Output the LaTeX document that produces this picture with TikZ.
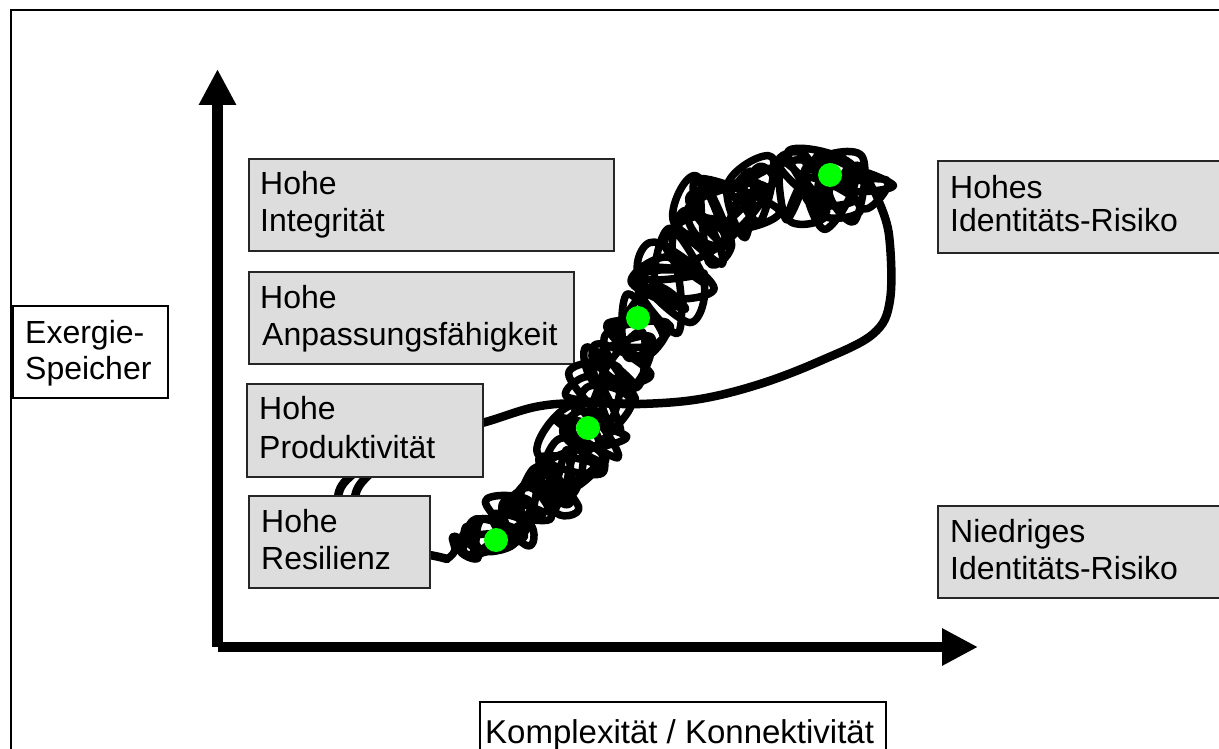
\documentclass[tikz,border=0pt]{standalone}
\usepackage{fontspec}
\setmainfont{Liberation Sans}
\usetikzlibrary{arrows.meta}
\definecolor{boxgray}{HTML}{DDDDDD}
\definecolor{dotgreen}{HTML}{00FF00}
\begin{document}
\begin{tikzpicture}[x=1pt,y=-1pt,
  gbox/.style={draw=black!85, line width=2pt, fill=boxgray, inner sep=0pt, anchor=north west},
  wbox/.style={draw=black, line width=2pt, fill=white, inner sep=0pt, anchor=north west},
  txt/.style={anchor=base west, inner sep=0pt, font=\fontsize{32}{37}\selectfont},
  axisarrow/.style={line width=11pt, -{Triangle[length=36pt,width=35pt]}},
  curve/.style={line width=8.5pt, line cap=round, line join=round},
  scribble/.style={line width=7.5pt, line cap=round, line join=round},
  gdot/.style={circle, fill=dotgreen, minimum size=24pt, inner sep=0pt}]
\useasboundingbox (0,0) rectangle (1219,749);
\clip (0,0) rectangle (1219,749);
% frame
\draw[line width=2pt] (11,770) -- (11,10) -- (1240,10);
% axes
\coordinate (yb) at (217.5,647);
\coordinate (yt) at (217.5,69);
\coordinate (xb) at (218,647);
\coordinate (xt) at (978,647);
\draw[axisarrow] (yb) -- (yt);
\draw[axisarrow, line width=10pt] (xb) -- (xt);
% smooth loop (partly behind boxes)
\draw[curve] plot[smooth, tension=0.6] coordinates {(878,200) (889,235) (890,300) (873,334) (820,361) (760,384) (700,399) (640,404) (580,403) (535,407) (482,423) (420,438) (372,472) (355,497) (362,532) (400,553) (429,555) (447,559)};
\draw[curve] plot[smooth, tension=0.6] coordinates {(400,445) (353,474) (338,497) (345,530)};
% boxes
\node[wbox, minimum width=155pt, minimum height=92pt] (bEx) at (12,305) {};
\node[gbox, minimum width=365pt, minimum height=92pt] (bInt) at (248,158) {};
\node[gbox, minimum width=325pt, minimum height=92pt] (bAnp) at (248,271) {};
\node[gbox, minimum width=236pt, minimum height=93pt] (bPro) at (246,383) {};
\node[gbox, minimum width=181pt, minimum height=92pt] (bRes) at (248,495) {};
\node[gbox, minimum width=300pt, minimum height=92pt] (bHoch) at (937,160) {};
\node[gbox, minimum width=300pt, minimum height=92pt] (bNied) at (937,505) {};
\node[wbox, minimum width=406pt, minimum height=70pt] (bKom) at (479,701) {};
% scribble tangle
\pgfmathsetseed{2024}
\def\spx{{457,494,532,566,587,615,641,686,722,767,833,866}}
\def\spy{{544,536,503,470,430,373,316,252,210,190,186,188}}
\def\spw{{13,26,32,35,37,37,38,39,40,40,38,30}}
\def\scN{175}
\xdef\scpts{(447,559)}
\foreach \i in {1,...,\scN}{%
  \pgfmathsetmacro\sct{\i/\scN*11}%
  \pgfmathtruncatemacro\sck{min(floor(\sct),10)}%
  \pgfmathsetmacro\scf{\sct-\sck}%
  \pgfmathtruncatemacro\scn{\sck+1}%
  \pgfmathsetmacro\xa{\spx[\sck]}%
  \pgfmathsetmacro\xb{\spx[\scn]}%
  \pgfmathsetmacro\ya{\spy[\sck]}%
  \pgfmathsetmacro\yb{\spy[\scn]}%
  \pgfmathsetmacro\wa{\spw[\sck]}%
  \pgfmathsetmacro\wb{\spw[\scn]}%
  \pgfmathsetmacro\ww{\wa+\scf*(\wb-\wa)}%
  \pgfmathsetmacro\scang{10*mod(12.9*\i+4*rand,36)}%
  \pgfmathsetmacro\px{\xa+\scf*(\xb-\xa)+\ww*(0.85*cos(\scang)+0.3*rand)}%
  \pgfmathsetmacro\py{\ya+\scf*(\yb-\ya)+\ww*(0.85*sin(\scang)+0.3*rand)}%
  \xdef\scpts{\scpts (\px,\py)}%
}
\xdef\scpts{\scpts (878,200)}
\edef\scdraw{\noexpand\draw[scribble] plot[smooth, tension=0.7] coordinates {\scpts};}
\scdraw
% green dots
\node[gdot] (d1) at (496,540) {};
\node[gdot] (d2) at (588,428) {};
\node[gdot] (d3) at (638,318) {};
\node[gdot] (d4) at (830,175) {};
% texts
\node[txt] (tEx1) at (25,343) {Exergie-};
\node[txt] (tEx2) at (25,379) {Speicher};
\node[txt] (tInt1) at (260,195) {Hohe};
\node[txt] (tInt2) at (260,232) {Integrität};
\node[txt] (tAnp1) at (260,308) {Hohe};
\node[txt] (tAnp2) at (262,345) {Anpassungsfähigkeit};
\node[txt] (tPro1) at (259,419) {Hohe};
\node[txt] (tPro2) at (259,458) {Produktivität};
\node[txt] (tRes1) at (261,532) {Hohe};
\node[txt] (tRes2) at (261,569) {Resilienz};
\node[txt] (tHoch1) at (950,198) {Hohes};
\node[txt] (tHoch2) at (950,232) {Identitäts-Risiko};
\node[txt] (tNied1) at (950,542) {Niedriges};
\node[txt] (tNied2) at (950,579) {Identitäts-Risiko};
\node[txt, font=\fontsize{33}{37}\selectfont] (tKom) at (485,743) {Komplexität / Konnektivität};
\end{tikzpicture}
\end{document}
